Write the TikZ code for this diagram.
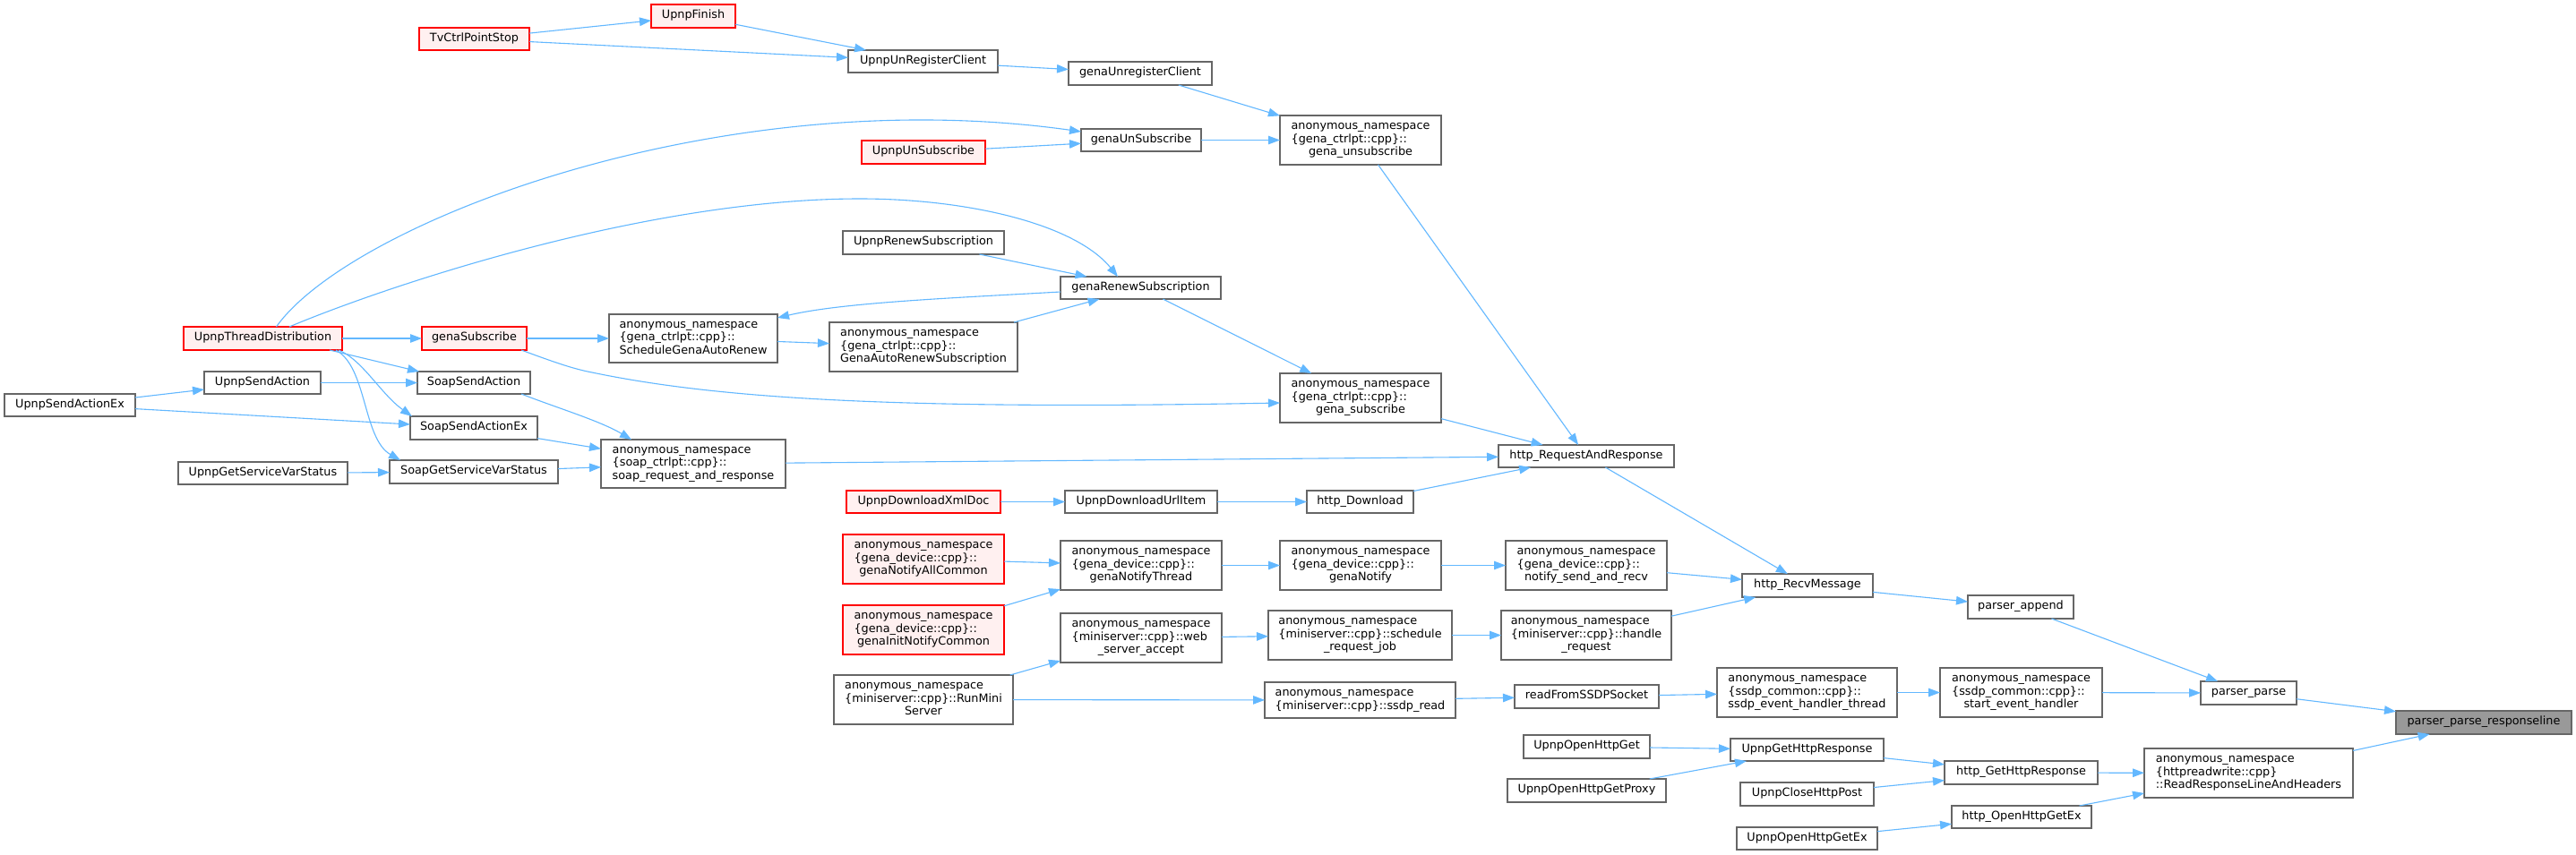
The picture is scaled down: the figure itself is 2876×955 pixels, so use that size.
\documentclass[tikz,border=0pt]{standalone}
\usepackage{fontspec}
\setmainfont{DejaVu Sans}
\usetikzlibrary{arrows.meta}
\definecolor{edgec}{HTML}{63B8FF}
\definecolor{bordc}{HTML}{666666}
\definecolor{redc}{HTML}{FF0000}
\definecolor{redfill}{HTML}{FFF0F0}
\definecolor{grayfill}{HTML}{999999}
\newcommand\ltab[1]{\begin{tabular}{@{}l@{}}#1\end{tabular}}
\newcommand\ctab[3]{\begin{tabular}{@{}l@{}}#1\\#2\\\multicolumn{1}{@{}c@{}}{#3}\end{tabular}}
\newcommand\mknode[7]{%
 \pgfmathsetmacro\mkcx{(#3+#4)/2}%
 \pgfmathsetmacro\mkcy{(#5+#6)/2}%
 \pgfmathsetmacro\mkw{#4-#3}%
 \pgfmathsetmacro\mkh{#6-#5}%
 \node[#1,minimum width=\mkw pt,minimum height=\mkh pt] (#2) at (\mkcx,\mkcy) {#7};}
\tikzset{
 nbox/.style={draw=bordc,fill=white,line width=1.2pt,inner sep=0pt,outer sep=0pt,font=\fontsize{12.8}{14.5}\selectfont},
 rbox/.style={nbox,draw=redc,fill=redfill},
 gbox/.style={nbox,fill=grayfill},
 conn/.style={draw=edgec,line width=1.1pt,-{Triangle[length=13pt,width=9.5pt]}}
}
\begin{document}
\begin{tikzpicture}[x=1pt,y=-1pt]
\fill[white] (0,0) rectangle (2876,955);
\useasboundingbox (0,0) rectangle (2876,955);
% nodes
\mknode{rbox}{upnpfinish}{727}{821}{5}{31}{\ltab{UpnpFinish}}
\mknode{rbox}{tvstop}{468}{591}{31}{56}{\ltab{TvCtrlPointStop}}
\mknode{nbox}{uurc}{947}{1114}{56}{81}{\ltab{UpnpUnRegisterClient}}
\mknode{nbox}{guc}{1193}{1353}{69}{95}{\ltab{genaUnregisterClient}}
\mknode{nbox}{gunsub3}{1429}{1609}{129}{184}{\ctab{anonymous\_namespace}{\{gena\_ctrlpt::cpp\}::}{gena\_unsubscribe}}
\mknode{nbox}{gunsub}{1207}{1341}{144}{169}{\ltab{genaUnSubscribe}}
\mknode{rbox}{uunsub}{962}{1100}{157}{183}{\ltab{UpnpUnSubscribe}}
\mknode{nbox}{urs}{941}{1121}{258}{284}{\ltab{UpnpRenewSubscription}}
\mknode{nbox}{grs}{1184}{1363}{309}{334}{\ltab{genaRenewSubscription}}
\mknode{nbox}{gars}{926}{1136}{360}{415}{\ltab{anonymous\_namespace\\\{gena\_ctrlpt::cpp\}::\\GenaAutoRenewSubscription}}
\mknode{nbox}{sga}{680}{868}{351}{405}{\ltab{anonymous\_namespace\\\{gena\_ctrlpt::cpp\}::\\ScheduleGenaAutoRenew}}
\mknode{rbox}{utd}{205}{382}{365}{391}{\ltab{UpnpThreadDistribution}}
\mknode{rbox}{gsub}{471}{588}{365}{391}{\ltab{genaSubscribe}}
\mknode{nbox}{gsub3}{1429}{1609}{417}{472}{\ctab{anonymous\_namespace}{\{gena\_ctrlpt::cpp\}::}{gena\_subscribe}}
\mknode{nbox}{usa}{228}{358}{415}{440}{\ltab{UpnpSendAction}}
\mknode{nbox}{ssa}{466}{592}{415}{440}{\ltab{SoapSendAction}}
\mknode{nbox}{usaex}{5}{151}{440}{465}{\ltab{UpnpSendActionEx}}
\mknode{nbox}{ssaex}{458}{600}{465}{491}{\ltab{SoapSendActionEx}}
\mknode{nbox}{ugsvs}{199}{388}{516}{541}{\ltab{UpnpGetServiceVarStatus}}
\mknode{nbox}{sgsvs}{435}{623}{514}{540}{\ltab{SoapGetServiceVarStatus}}
\mknode{nbox}{soap}{671}{877}{491}{545}{\ltab{anonymous\_namespace\\\{soap\_ctrlpt::cpp\}::\\soap\_request\_and\_response}}
\mknode{nbox}{hrr}{1673}{1869}{497}{522}{\ltab{http\_RequestAndResponse}}
\mknode{rbox}{udxd}{945}{1117}{548}{573}{\ltab{UpnpDownloadXmlDoc}}
\mknode{nbox}{udui}{1189}{1359}{548}{573}{\ltab{UpnpDownloadUrlItem}}
\mknode{nbox}{hdl}{1459}{1578}{548}{573}{\ltab{http\_Download}}
\mknode{rbox}{gnac}{941}{1121}{597}{652}{\ctab{anonymous\_namespace}{\{gena\_device::cpp\}::}{genaNotifyAllCommon}}
\mknode{nbox}{gnt}{1184}{1364}{604}{659}{\ctab{anonymous\_namespace}{\{gena\_device::cpp\}::}{genaNotifyThread}}
\mknode{nbox}{gn}{1429}{1609}{604}{659}{\ctab{anonymous\_namespace}{\{gena\_device::cpp\}::}{genaNotify}}
\mknode{nbox}{nsr}{1681}{1861}{604}{659}{\ctab{anonymous\_namespace}{\{gena\_device::cpp\}::}{notify\_send\_and\_recv}}
\mknode{rbox}{ginc}{941}{1121}{676}{731}{\ctab{anonymous\_namespace}{\{gena\_device::cpp\}::}{genaInitNotifyCommon}}
\mknode{nbox}{wsa}{1184}{1364}{685}{740}{\ctab{anonymous\_namespace}{\{miniserver::cpp\}::web}{\_server\_accept}}
\mknode{nbox}{srj}{1416}{1621}{682}{737}{\ctab{anonymous\_namespace}{\{miniserver::cpp\}::schedule}{\_request\_job}}
\mknode{nbox}{hreq}{1676}{1866}{682}{737}{\ctab{anonymous\_namespace}{\{miniserver::cpp\}::handle}{\_request}}
\mknode{nbox}{rms}{931}{1131}{754}{809}{\ctab{anonymous\_namespace}{\{miniserver::cpp\}::RunMini}{Server}}
\mknode{nbox}{sread}{1412}{1625}{762}{802}{\ltab{anonymous\_namespace\\\{miniserver::cpp\}::ssdp\_read}}
\mknode{nbox}{rfs}{1691}{1852}{765}{791}{\ltab{readFromSSDPSocket}}
\mknode{nbox}{uohg}{1701}{1842}{821}{847}{\ltab{UpnpOpenHttpGet}}
\mknode{nbox}{uohgp}{1683}{1860}{870}{896}{\ltab{UpnpOpenHttpGetProxy}}
\mknode{nbox}{hrm}{1945}{2091}{641}{667}{\ltab{http\_RecvMessage}}
\mknode{nbox}{pa}{2197}{2315}{665}{691}{\ltab{parser\_append}}
\mknode{nbox}{seht}{1917}{2118}{746}{801}{\ltab{anonymous\_namespace\\\{ssdp\_common::cpp\}::\\ssdp\_event\_handler\_thread}}
\mknode{nbox}{seh}{2166}{2347}{746}{801}{\ctab{anonymous\_namespace}{\{ssdp\_common::cpp\}::}{start\_event\_handler}}
\mknode{nbox}{pp}{2457}{2564}{761}{787}{\ltab{parser\_parse}}
\mknode{gbox}{ppr}{2675}{2871}{794}{820}{\ltab{parser\_parse\_responseline}}
\mknode{nbox}{ughr}{1932}{2103}{825}{850}{\ltab{UpnpGetHttpResponse}}
\mknode{nbox}{hghr}{2171}{2342}{850}{876}{\ltab{http\_GetHttpResponse}}
\mknode{nbox}{uchp}{1943}{2092}{874}{900}{\ltab{UpnpCloseHttpPost}}
\mknode{nbox}{rrlh}{2394}{2627}{836}{891}{\ltab{anonymous\_namespace\\\{httpreadwrite::cpp\}\\::ReadResponseLineAndHeaders}}
\mknode{nbox}{hohge}{2179}{2335}{900}{925}{\ltab{http\_OpenHttpGetEx}}
\mknode{nbox}{uohge}{1939}{2096}{924}{949}{\ltab{UpnpOpenHttpGetEx}}
% edges
\draw[conn] (tvstop) -- (upnpfinish);
\draw[conn] (upnpfinish) -- (uurc);
\draw[conn] (tvstop) -- (uurc);
\draw[conn] (uurc) -- (guc);
\draw[conn] (guc) -- (gunsub3);
\draw[conn] ([xshift=15pt]utd.north) .. controls (390,250) and (800,90) .. ([yshift=9.5pt]gunsub.west);
\draw[conn] (uunsub) -- (gunsub);
\draw[conn] (gunsub) -- (gunsub3);
\draw[conn] (gunsub3) -- (hrr);
\draw[conn] ([xshift=29.5pt]utd.north) .. controls (430,320) and (720,222) .. (960,222) .. controls (1080,222) and (1200,250) .. ([xshift=-25.5pt]grs.north);
\draw[conn] (urs) -- (grs);
\draw[conn] ([yshift=-4.5pt]grs.west) .. controls (1060,333) and (940,338) .. ([yshift=-4pt]sga.north east);
\draw[conn] (gars) -- (grs);
\draw[conn] (sga) -- (gars);
\draw[conn] (grs) -- (gsub3);
\draw[conn] (utd) -- (gsub);
\draw[conn] (gsub) -- (sga);
\draw[conn] ([xshift=52.5pt]gsub.south) .. controls (620,405) and (640,412) .. (661,416) .. controls (800,445) and (1000,458) .. ([yshift=-5.5pt]gsub3.west);
\draw[conn] (gsub3) -- (hrr);
\draw[conn] ([xshift=74.5pt]utd.south) -- ([xshift=2pt]ssa.north west);
\draw[conn] ([xshift=84.5pt]utd.south) .. controls (405,402) and (425,440) .. ([xshift=2pt]ssaex.north west);
\draw[conn] ([xshift=81.5pt]utd.south) .. controls (410,410) and (405,490) .. ([xshift=12pt]sgsvs.north west);
\draw[conn] (usa) -- (ssa);
\draw[conn] (usaex) -- (usa);
\draw[conn] (usaex) -- (ssaex);
\draw[conn] (ugsvs) -- (sgsvs);
\draw[conn] ([xshift=53pt]ssa.south) .. controls (620,455) and (670,470) .. ([xshift=-69pt]soap.north);
\draw[conn] (ssaex) -- (soap);
\draw[conn] (sgsvs) -- (soap);
\draw[conn] (soap) -- (hrr);
\draw[conn] (udxd) -- (udui);
\draw[conn] (udui) -- (hdl);
\draw[conn] (hdl) -- (hrr);
\draw[conn] (hrr) -- (hrm);
\draw[conn] (gnac) -- (gnt);
\draw[conn] (ginc) -- (gnt);
\draw[conn] (gnt) -- (gn);
\draw[conn] (gn) -- (nsr);
\draw[conn] (nsr) -- (hrm);
\draw[conn] (rms) -- (wsa);
\draw[conn] (wsa) -- (srj);
\draw[conn] (srj) -- (hreq);
\draw[conn] (hreq) -- (hrm);
\draw[conn] (rms) -- (sread);
\draw[conn] (sread) -- (rfs);
\draw[conn] (rfs) -- (seht);
\draw[conn] (seht) -- (seh);
\draw[conn] (seh) -- (pp);
\draw[conn] (hrm) -- (pa);
\draw[conn] (pa) -- (pp);
\draw[conn] (pp) -- (ppr);
\draw[conn] (uohg) -- (ughr);
\draw[conn] (uohgp) -- (ughr);
\draw[conn] (ughr) -- (hghr);
\draw[conn] (uchp) -- (hghr);
\draw[conn] (hghr) -- (rrlh);
\draw[conn] (uohge) -- (hohge);
\draw[conn] (hohge) -- (rrlh);
\draw[conn] (rrlh) -- (ppr);
\end{tikzpicture}
\end{document}
